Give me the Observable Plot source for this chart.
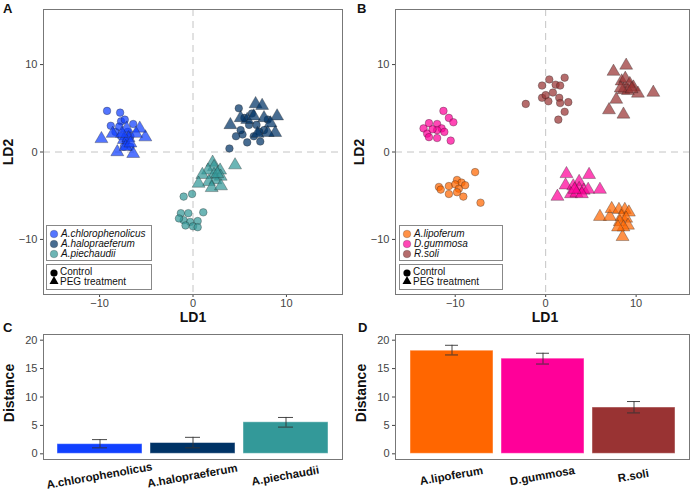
<!DOCTYPE html>
<html><head><meta charset="utf-8">
<script src="https://cdn.jsdelivr.net/npm/d3@7"></script>
<script src="https://cdn.jsdelivr.net/npm/@observablehq/plot@0.6"></script>
<style>
body{margin:0;background:#fff;}
#root{position:relative;width:696px;height:500px;font-family:"Liberation Sans",Arial,sans-serif;overflow:hidden;background:#fff;}
.lbl{position:absolute;font-weight:bold;white-space:nowrap;color:#111;line-height:1;}
.panel{font-size:13px;}
.axt{font-size:14px;transform:translate(-50%,-50%);}
.axv{font-size:14px;transform:translate(-50%,-50%) rotate(-90deg);}
.leg{position:absolute;border:1px solid #888;background:#fff;box-sizing:border-box;font-size:10px;color:#111;}
.row{position:absolute;left:0;height:10px;line-height:10px;white-space:nowrap;}
.row svg{position:absolute;left:2px;top:-1px;}
.row span{position:absolute;left:14px;top:0;}
</style>
</head><body><div id="root"></div>
<script>
// ---------- Panel A data (LD1, LD2) ----------
const speciesA = ["A.chlorophenolicus", "A.halopraeferum", "A.piechaudii"];
const colorsA = ["#1040ff", "#003366", "#339999"];
const chloroCtrl = [[-9.2,4.7],[-7.8,4.5],[-8.8,3.0],[-7.7,3.5],[-7.3,3.7],[-6.4,3.2],[-8.3,2.3],[-7.0,2.3],[-7.7,1.8],[-6.7,1.8],[-7.2,1.2],[-6.7,0.6],[-7.4,0.6],[-7.9,2.9]];
const chloroPeg = [[-9.8,1.5],[-8.6,2.1],[-8.1,0.0],[-6.4,-0.2],[-5.1,1.7],[-5.7,2.7],[-6.1,2.1],[-7.1,2.7],[-7.4,1.4],[-6.9,1.6],[-7.6,2.1],[-7.2,0.6],[-6.7,1.0]];
const haloCtrl = [[4.9,5.0],[3.9,0.4],[5.8,1.1],[7.2,1.2],[6.5,1.8],[5.3,2.0],[4.6,1.8],[5.5,3.9],[6.3,4.4],[6.0,3.1],[6.8,3.1],[7.6,2.5],[8.0,3.7],[5.1,2.5],[7.1,2.3]];
const haloPeg = [[6.7,5.5],[7.4,5.3],[4.0,3.1],[9.0,4.1],[8.8,2.2],[8.0,2.2],[7.6,3.9],[8.3,3.3],[6.9,2.1],[5.8,3.7],[5.1,3.9],[6.5,4.1]];
const piecCtrl = [[-1.0,-5.1],[-0.1,-4.8],[-1.3,-7.0],[-0.5,-7.0],[1.1,-6.9],[-1.0,-7.8],[-0.3,-8.0],[0.5,-7.9],[-0.8,-8.4],[0.0,-8.5],[0.5,-8.6],[-1.5,-7.6]];
const piecPeg = [[4.5,-1.5],[2.1,-1.2],[2.25,-1.7],[1.6,-2.1],[1.0,-2.6],[2.9,-2.1],[2.25,-2.6],[2.96,-2.8],[2.4,-3.2],[1.7,-3.4],[0.6,-3.6],[2.0,-4.1],[3.0,-3.9],[2.6,-2.5]];

// ---------- Panel B data (LD1, LD2) ----------
const speciesB = ["A.lipoferum", "D.gummosa", "R.soli"];
const colorsB = ["#ff6600", "#ff0099", "#993333"];
const lipoCtrl = [[-11.8,-4.0],[-10.7,-3.9],[-9.8,-3.2],[-9.3,-3.5],[-10.0,-3.7],[-9.6,-4.2],[-10.7,-4.8],[-9.1,-5.1],[-7.8,-2.3],[-7.2,-5.8],[-8.9,-3.8],[-9.8,-4.6],[-11.6,-4.3]];
const lipoPeg = [[6.0,-7.4],[7.1,-7.4],[7.3,-6.5],[8.1,-6.6],[8.75,-6.6],[9.2,-6.9],[8.4,-7.4],[8.9,-7.6],[8.2,-8.0],[9.1,-8.4],[8.6,-8.6],[8.5,-9.7],[8.0,-8.6]];
const gumCtrl = [[-13.5,2.7],[-12.9,3.3],[-12.0,3.2],[-11.5,2.7],[-13.1,2.1],[-12.9,1.7],[-12.0,1.6],[-11.2,2.3],[-10.5,1.3],[-11.3,4.7],[-10.7,3.9],[-10.2,3.4],[-12.0,2.5],[-12.5,2.6]];
const gumPeg = [[2.3,-2.5],[4.8,-2.6],[3.7,-3.4],[2.2,-3.8],[3.05,-3.9],[3.7,-4.2],[4.2,-4.4],[4.7,-4.3],[6.0,-4.3],[1.3,-5.1],[2.8,-4.8],[3.4,-4.7],[4.0,-4.8],[3.2,-4.3]];
const soliCtrl = [[-2.2,5.5],[-0.4,7.6],[0.4,8.3],[1.1,7.7],[2.1,8.5],[1.6,7.6],[-0.4,6.2],[0.0,6.5],[0.3,5.8],[0.8,6.8],[1.5,6.2],[1.6,5.6],[2.5,5.7],[2.1,4.6],[1.4,3.7]];
const soliPeg = [[7.5,9.2],[8.9,9.9],[8.4,8.1],[8.8,8.4],[9.3,7.8],[9.7,7.4],[8.6,7.1],[9.1,7.0],[8.3,7.3],[10.2,6.7],[11.9,6.8],[7.8,6.0],[7.0,4.8],[8.6,4.3],[9.5,7.2]];

// ---------- Bar chart data ----------
const distA = [1.7, 1.9, 5.55];
const distALo = [1.05, 1.05, 4.7];
const distAHi = [2.5, 2.9, 6.4];
const distB = [18.15, 16.75, 8.15];
const distBLo = [17.4, 15.8, 7.2];
const distBHi = [19.1, 17.7, 9.2];

const treatments = ["Control", "PEG treatment"];
const ldTicks = [-10, 0, 10];
const distTicks = [0, 5, 10, 15, 20];

const FONT = '"Liberation Sans", Arial, sans-serif';
const root = document.getElementById("root");

function rows(species, ctrls, pegs) {
  const out = [];
  species.forEach((s, i) => {
    ctrls[i].forEach(([x, y]) => out.push({species: s, trt: treatments[0], x, y}));
    pegs[i].forEach(([x, y]) => out.push({species: s, trt: treatments[1], x, y}));
  });
  return out;
}

function place(el, left, top) {
  el.style.position = "absolute";
  el.style.left = left + "px";
  el.style.top = top + "px";
  root.appendChild(el);
}

function scatter(data, species, colors, xDomain, width, marginRight) {
  const ctrl = data.filter(d => d.trt === treatments[0]);
  const peg = data.filter(d => d.trt === treatments[1]);
  return Plot.plot({
    width, height: 312,
    marginLeft: 43, marginRight, marginTop: 9, marginBottom: 18,
    style: {fontSize: "11px", fontFamily: FONT, color: "#444", background: "transparent"},
    x: {domain: xDomain, ticks: ldTicks, tickSize: 3, tickPadding: 2, label: null},
    y: {domain: [-16.3, 16.3], ticks: ldTicks, tickSize: 3, tickPadding: 3, label: null},
    color: {domain: species, range: colors},
    marks: [
      Plot.ruleX([0], {stroke: "#c4c4c4", strokeDasharray: "7,5"}),
      Plot.ruleY([0], {stroke: "#c4c4c4", strokeDasharray: "7,5"}),
      Plot.dot(ctrl, {x: "x", y: "y", fill: "species", fillOpacity: 0.72, stroke: "#222", strokeOpacity: 0.55, strokeWidth: 0.6, r: 3.8}),
      Plot.dot(peg, {x: "x", y: "y", fill: "species", symbol: "triangle", fillOpacity: 0.72, stroke: "#222", strokeOpacity: 0.55, strokeWidth: 0.6, r: 4.8}),
      Plot.frame({stroke: "#777"})
    ]
  });
}

function bars(cats, vals, lo, hi, colors, width, marginRight) {
  const data = cats.map((c, i) => ({cat: c, v: vals[i], lo: lo[i], hi: hi[i]}));
  return Plot.plot({
    width, height: 178,
    marginLeft: 43, marginRight, marginTop: 12, marginBottom: 41,
    style: {fontSize: "11px", fontFamily: FONT, color: "#444", background: "transparent", overflow: "visible"},
    x: {domain: cats, paddingInner: 0.09, paddingOuter: 0.15, axis: null},
    y: {domain: [-1, 21], ticks: distTicks, tickSize: 3, tickPadding: 3, label: null},
    color: {domain: cats, range: colors},
    marks: [
      Plot.barY(data, {x: "cat", y: "v", fill: "cat", stroke: "#fff", strokeOpacity: 0.45, strokeWidth: 1}),
      Plot.ruleX(data, {x: "cat", y1: "lo", y2: "hi", stroke: "#333", strokeWidth: 0.9}),
      Plot.tickY(data, {x: "cat", y: "lo", insetLeft: 35, insetRight: 35, stroke: "#333", strokeWidth: 0.9}),
      Plot.tickY(data, {x: "cat", y: "hi", insetLeft: 35, insetRight: 35, stroke: "#333", strokeWidth: 0.9}),
      Plot.text(data, {x: "cat", text: "cat", frameAnchor: "bottom", dy: 20, rotate: -10, fontWeight: "bold", fontSize: 11.5, fill: "#111"}),
      Plot.frame({stroke: "#777"})
    ]
  });
}

function label(text, cls, left, top) {
  const d = document.createElement("div");
  d.className = "lbl " + cls;
  d.textContent = text;
  d.style.left = left + "px";
  d.style.top = top + "px";
  root.appendChild(d);
}

function legend(species, colors, left, top, width) {
  const box = document.createElement("div");
  box.className = "leg";
  box.style.left = left + "px"; box.style.top = top + "px";
  box.style.width = width + "px"; box.style.height = "36px";
  species.forEach((s, i) => {
    const r = document.createElement("div");
    r.className = "row";
    r.style.top = (3 + i * 10) + "px";
    r.innerHTML = `<svg width="12" height="12"><circle cx="5" cy="6" r="3.8" fill="${colors[i]}" fill-opacity="0.72" stroke="#222" stroke-opacity="0.4" stroke-width="0.6"/></svg><span style="font-style:italic">${s}</span>`;
    box.appendChild(r);
  });
  root.appendChild(box);
  const box2 = document.createElement("div");
  box2.className = "leg";
  box2.style.left = left + "px"; box2.style.top = (top + 39) + "px";
  box2.style.width = width + "px"; box2.style.height = "26px";
  box2.innerHTML = `<svg width="14" height="24" style="position:absolute;left:1px;top:1px"><circle cx="6" cy="7" r="3.6" fill="#000"/><path d="M6 10 L10.5 18 L1.5 18 Z" fill="#000"/></svg>`;
  treatments.forEach((t, i) => {
    const r = document.createElement("div");
    r.className = "row";
    r.style.top = (2 + i * 10) + "px";
    r.innerHTML = `<span style="left:13px">${t}</span>`;
    box2.appendChild(r);
  });
  root.appendChild(box2);
}

// Panels A and B
const pA = scatter(rows(speciesA, [chloroCtrl, haloCtrl, piecCtrl], [chloroPeg, haloPeg, piecPeg]), speciesA, colorsA, [-16, 16], 346, 4);
place(pA, 0, 0);
const pB = scatter(rows(speciesB, [lipoCtrl, gumCtrl, soliCtrl], [lipoPeg, gumPeg, soliPeg]), speciesB, colorsB, [-16.6, 15.9], 344, 7);
place(pB, 352, 0);

// Panels C and D
const pC = bars(speciesA, distA, distALo, distAHi, colorsA, 346, 4);
place(pC, 0, 322);
const pD = bars(speciesB, distB, distBLo, distBHi, colorsB, 344, 7);
place(pD, 352, 322);

// Legends
legend(speciesA, colorsA, 46, 225, 106);
legend(speciesB, colorsB, 399, 225, 104);

// Labels
label("A", "panel", 3, 2);
label("B", "panel", 357, 2);
label("C", "panel", 3, 321);
label("D", "panel", 358, 321);
label("LD2", "axv", 8, 152);
label("LD2", "axv", 359, 152);
label("LD1", "axt", 193, 317);
label("LD1", "axt", 545, 317);
label("Distance", "axv", 9, 393);
label("Distance", "axv", 361, 393);
</script></body></html>
